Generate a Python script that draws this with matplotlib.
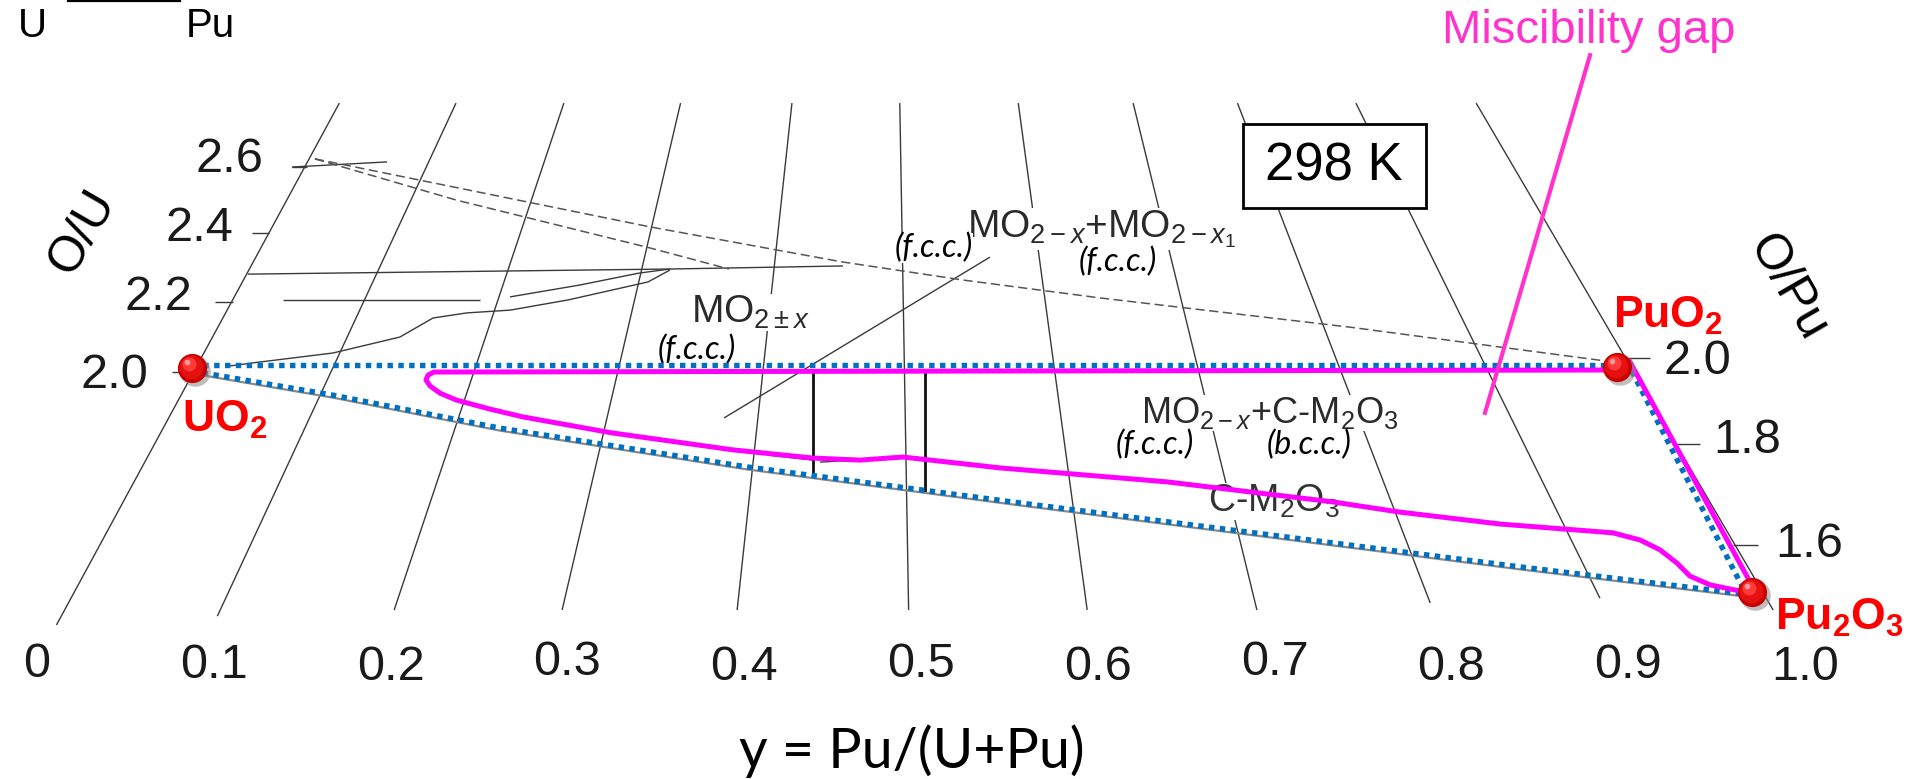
import matplotlib
matplotlib.use('Agg')
import matplotlib.pyplot as plt
import matplotlib.transforms as mtransforms
from matplotlib.patches import Rectangle

plt.rcParams['font.family'] = ['Liberation Sans', 'DejaVu Sans']
plt.rcParams['mathtext.fontset'] = 'custom'
plt.rcParams['mathtext.rm'] = 'Liberation Sans'
plt.rcParams['mathtext.it'] = 'Liberation Sans:italic'
plt.rcParams['mathtext.bf'] = 'Liberation Sans:bold'

# ---------------- data (apparent frame: x = Pu/(U+Pu) scale, v = O/M scale) -------------
pu_ticks = [0.0, 0.1, 0.2, 0.3, 0.4, 0.5, 0.6, 0.7, 0.8, 0.9, 1.0]
pu_tick_labels = ['0', '0.1', '0.2', '0.3', '0.4', '0.5', '0.6', '0.7', '0.8', '0.9', '1.0']
pu_tick_label_v = [1.135, 1.132, 1.126, 1.141, 1.126, 1.135, 1.126, 1.141, 1.126, 1.132, 1.126]

# iso-y fan lines
fan_bottom_x = [0.011, 0.102, 0.202, 0.297, 0.396, 0.493, 0.594, 0.690, 0.788, 0.884, 0.982]
fan_bottom_v = [1.250, 1.276, 1.294, 1.294, 1.294, 1.294, 1.294, 1.294, 1.315, 1.329, 1.294]
fan_top_x = [0.171, 0.237, 0.298, 0.364, 0.427, 0.488, 0.555, 0.620, 0.679, 0.746, 0.814]
fan_top_v = [2.785] * 11

# O/U axis (left)
ou_labels = ['2.0', '2.2', '2.4', '2.6']
ou_tick_x0 = [0.0764, 0.1007, 0.1216, 0.1442]
ou_tick_x1 = [0.0877, 0.1109, 0.1312, 0.1527]
ou_tick_v = [1.994, 2.200, 2.403, 2.597]
ou_label_x = [0.0628, 0.0877, 0.1109, 0.1278]
ou_label_v = [1.984, 2.213, 2.416, 2.619]

# O/Pu axis (right)
opu_labels = ['2.0', '1.8', '1.6']
opu_tick_x0 = [0.8993, 0.9276, 0.9593]
opu_tick_x1 = [0.9123, 0.9406, 0.9734]
opu_tick_v = [2.035, 1.782, 1.485]
opu_label_x = [0.9197, 0.9480, 0.9830]
opu_label_v = [2.025, 1.793, 1.487]

# original phase boundaries (thin black)
line26_x = [0.1442, 0.1980]
line26_v = [2.597, 2.612]
upper_h_x = [0.1193, 0.3580, 0.4559]
upper_h_v = [2.282, 2.297, 2.306]
lower_h_x = [0.1391, 0.2506]
lower_h_v = [2.206, 2.206]
curve1_x = [0.1092, 0.1222, 0.1674, 0.2053, 0.2240, 0.2432, 0.2675, 0.3003, 0.3456, 0.3580]
curve1_v = [2.012, 2.021, 2.050, 2.097, 2.153, 2.168, 2.176, 2.206, 2.259, 2.294]
curve2_x = [0.2675, 0.3071, 0.3405, 0.3580]
curve2_v = [2.215, 2.250, 2.285, 2.297]
diag_x = [0.3886, 0.5390]
diag_v = [1.859, 2.332]
seg_a_x = [0.4129, 0.4389]
seg_a_v = [1.750, 1.735]
seg_b_x = [0.4429, 0.4910]
seg_b_v = [1.729, 1.744]
bar_x = [0.4389, 0.5023]
bar_top_v = [1.994, 2.000]
bar_bot_v = [1.691, 1.641]

# dashed boundaries
dash1_x = [0.1572, 0.3467, 0.4553, 0.5232, 0.6012, 0.7426, 0.8908]
dash1_v = [2.621, 2.421, 2.318, 2.265, 2.212, 2.126, 2.024]
dash2_x = [0.1572, 0.2370, 0.3467, 0.3914]
dash2_v = [2.621, 2.500, 2.359, 2.297]

# blue dotted triangle
blue_top_x = [0.0877, 0.8937]
blue_top_v = [2.015, 2.015]
blue_low_x = [0.0877, 0.1674, 0.2619, 0.4016, 0.5560, 0.8388, 0.9661]
blue_low_v = [1.997, 1.926, 1.829, 1.715, 1.609, 1.421, 1.341]
blue_right_x = [0.8993, 0.9655]
blue_right_v = [2.024, 1.353]

# miscibility gap (magenta)
gap_x = [0.8908, 0.5447, 0.2245, 0.2212, 0.2200, 0.2223, 0.2279, 0.2370, 0.2562, 0.2749,
         0.3252, 0.3937, 0.4389, 0.4655, 0.4898, 0.5447, 0.6391, 0.7330, 0.7709, 0.8275,
         0.8914, 0.9067, 0.9180, 0.9276, 0.9349, 0.9463, 0.9661]
gap_v = [2.000, 1.997, 1.994, 1.985, 1.971, 1.953, 1.932, 1.912, 1.885, 1.862,
         1.815, 1.765, 1.741, 1.735, 1.744, 1.712, 1.671, 1.612, 1.582, 1.547,
         1.521, 1.500, 1.471, 1.432, 1.394, 1.368, 1.347]
gap_edge_x = [0.9010, 0.9677]
gap_edge_v = [2.024, 1.388]
pointer_x = [0.8784, 0.8190]
pointer_v = [2.926, 1.874]

# end-member compounds
comp_names = ['UO$_\\mathbf{2}$', 'PuO$_\\mathbf{2}$', 'Pu$_\\mathbf{2}$O$_\\mathbf{3}$']
comp_x = [0.0877, 0.8937, 0.9700]
comp_v = [2.006, 2.009, 1.347]
comp_label_x = [0.0820, 0.8914, 0.9830]
comp_label_v = [1.818, 2.124, 1.235]

# ---------------- figure ----------------
fig = plt.figure(figsize=(19.15, 7.79), dpi=100)
ax = fig.add_axes([0, 0, 1, 1])
ax.set_xlim(-0.020928, 1.062217)
ax.set_ylim(0.797059, 3.088235)
ax.axis('off')

thin = dict(color='#3a3a3a', lw=1.0, zorder=1, solid_capstyle='butt')

for bx, bv, tx, tv in zip(fan_bottom_x, fan_bottom_v, fan_top_x, fan_top_v):
    ax.plot([bx, tx], [bv, tv], **thin)

for x0, x1, v in zip(ou_tick_x0, ou_tick_x1, ou_tick_v):
    ax.plot([x0, x1], [v, v], **thin)
for lab, x, v in zip(ou_labels, ou_label_x, ou_label_v):
    ax.text(x, v, lab, fontsize=35, ha='right', va='center', color='#1a1a1a')
for x0, x1, v in zip(opu_tick_x0, opu_tick_x1, opu_tick_v):
    ax.plot([x0, x1], [v, v], **thin)
for lab, x, v in zip(opu_labels, opu_label_x, opu_label_v):
    ax.text(x, v, lab, fontsize=35, ha='left', va='center', color='#1a1a1a')

for t, lab, v in zip(pu_ticks, pu_tick_labels, pu_tick_label_v):
    ax.text(t, v, lab, fontsize=35, ha='center', va='center', color='#1a1a1a')

for xs, vs in [(line26_x, line26_v), (upper_h_x, upper_h_v), (lower_h_x, lower_h_v),
               (curve1_x, curve1_v), (curve2_x, curve2_v), (diag_x, diag_v),
               (seg_a_x, seg_a_v), (seg_b_x, seg_b_v)]:
    ax.plot(xs, vs, **thin)

for xs, vs in [(dash1_x, dash1_v), (dash2_x, dash2_v)]:
    ax.plot(xs, vs, color='#555555', lw=1.1, dashes=(6, 3), zorder=1)

for x, vt, vb in zip(bar_x, bar_top_v, bar_bot_v):
    ax.plot([x, x], [vt, vb], color='#111111', lw=2.0, zorder=2)

# axis names
ax.text(0.026, 2.406, 'O/U', fontsize=36, rotation=60, ha='center', va='center')
ax.text(0.990, 2.241, 'O/Pu', fontsize=36, rotation=-60, ha='center', va='center')
ax.text(-0.0023, 2.979, 'U', fontsize=29, ha='center', va='baseline')
ax.text(0.0979, 2.979, 'Pu', fontsize=29, ha='center', va='baseline')
ax.plot([0.0175, 0.0809], [3.084, 3.084], color='black', lw=1.6, clip_on=False)
ax.text(0.4949, 0.8294, 'y = Pu/(U+Pu)', fontsize=40, family=['Lato', 'DejaVu Sans'],
        ha='center', va='baseline')

# phase labels
wb = dict(facecolor='white', edgecolor='none', pad=0.0)
mo_col = '#2a2a2a'
ax.text(0.3699, 2.138, 'MO$_{2\\pm x}$', fontsize=28, color=mo_col, ha='left',
        va='baseline', zorder=2, bbox=wb)
ax.text(0.5260, 2.391, 'MO$_{2-x}$+MO$_{2-x_1}$', fontsize=28, color=mo_col, ha='left',
        va='baseline', zorder=2, bbox=wb)
ax.text(0.6244, 1.844, 'MO$_{2-x}$+C-M$_2$O$_3$', fontsize=26, color=mo_col, ha='left',
        va='baseline', zorder=2, bbox=wb)
ax.text(0.6623, 1.582, 'C-M$_2$O$_3$', fontsize=27, color='#333333', ha='left',
        va='baseline', zorder=2, bbox=wb)
fcc_font = dict(fontsize=23, family=['Lato', 'DejaVu Sans'], style='italic',
                ha='center', va='center', zorder=3, bbox=wb)
ax.text(0.3730, 2.058, '(f.c.c.)', **fcc_font)
ax.text(0.5075, 2.359, '(f.c.c.)', **fcc_font)
ax.text(0.6114, 2.318, '(f.c.c.)', **fcc_font)
ax.text(0.6324, 1.779, '(f.c.c.)', **fcc_font)
ax.text(0.7195, 1.779, '(b.c.c.)', **fcc_font)

# 298 K box
ax.add_patch(Rectangle((0.6821, 2.476), 0.1035, 0.248, facecolor='white',
                       edgecolor='black', lw=2.0, zorder=3))
ax.text(0.7336, 2.599, '298 K', fontsize=38, ha='center', va='center', zorder=4)

# blue dotted triangle (with the grey original line underneath)
shift = mtransforms.ScaledTranslation(0, -2.5 / 100, fig.dpi_scale_trans)
ax.plot(blue_low_x, blue_low_v, color='#8a8a8a', lw=1.6, zorder=3,
        transform=ax.transData + shift)
dot = dict(color='#0070C0', lw=3.9, dashes=(1, 1.0), dash_capstyle='butt', zorder=4)
for xs, vs in [(blue_top_x, blue_top_v), (blue_low_x, blue_low_v), (blue_right_x, blue_right_v)]:
    ax.plot(xs, vs, **dot)

# miscibility gap
ax.plot(gap_x, gap_v, color='#FF00FF', lw=3.6, zorder=5, solid_joinstyle='round')
ax.plot(gap_edge_x, gap_edge_v, color='#FF00FF', lw=3.6, zorder=5)
ax.plot(pointer_x, pointer_v, color='#FF33CC', lw=3.0, zorder=5)
ax.text(0.8778, 2.962, 'Miscibility gap', fontsize=34, color='#FF33CC', ha='center',
        va='baseline')

# red balls
def ball(x, v):
    layers = [(2.0, -2.5, 22, '#8c8c8c', 0.55), (0, 0, 21, '#C80000', 1.0),
              (-0.8, 0.8, 17, '#E51010', 1.0), (-2.2, 2.6, 10, '#FF3A3A', 1.0),
              (-3.6, 4.2, 4, '#FF9A9A', 1.0)]
    for i, (dx, dy, ms, col, a) in enumerate(layers):
        tr = ax.transData + mtransforms.ScaledTranslation(dx / 72, dy / 72, fig.dpi_scale_trans)
        ax.plot([x], [v], marker='o', ms=ms, color=col, mec='none', alpha=a,
                transform=tr, zorder=6 + 0.1 * i, clip_on=False)

for x, v in zip(comp_x, comp_v):
    ball(x, v)
for name, x, v in zip(comp_names, comp_label_x, comp_label_v):
    ax.text(x, v, name, fontsize=32, fontweight='bold', color='#FF0000', ha='left',
            va='baseline', zorder=7)

fig.savefig('out.png', dpi=100)
